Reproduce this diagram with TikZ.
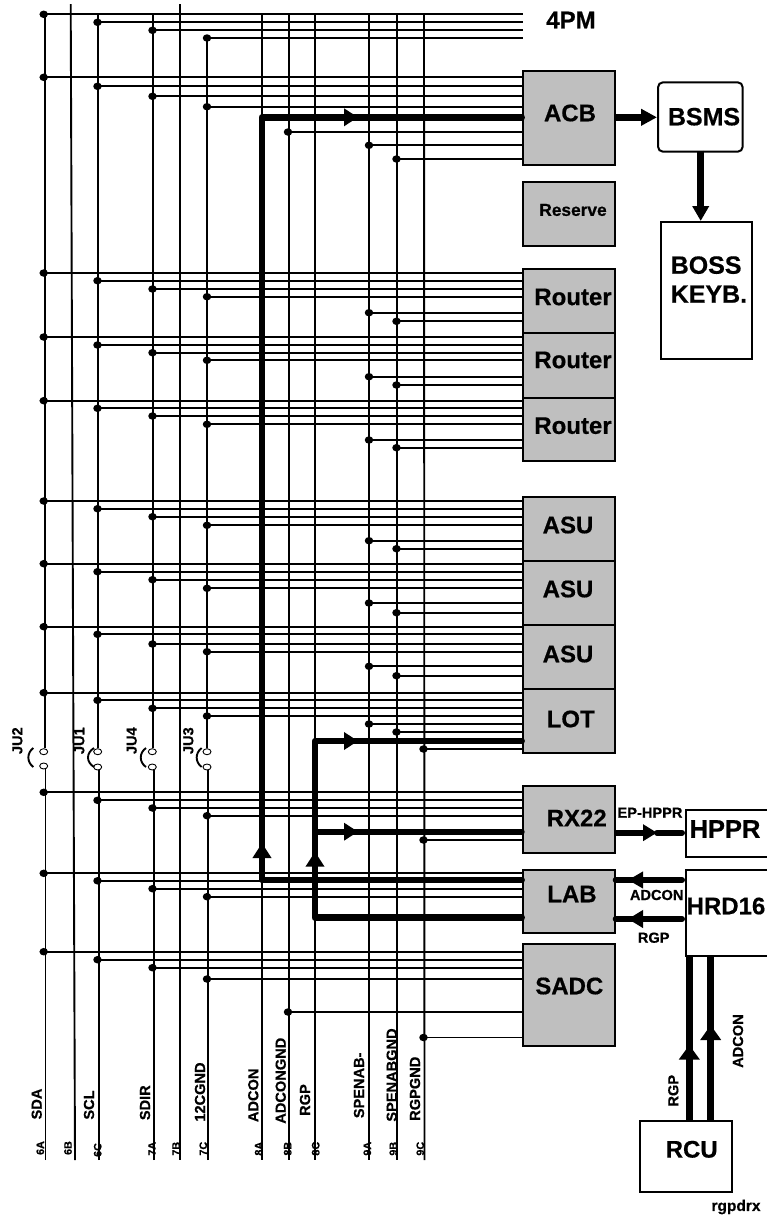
\documentclass[tikz,border=0pt]{standalone}
\usepackage{fontspec}
\setmainfont{Liberation Sans}[BoldFeatures={FakeBold=0.5}]
\usetikzlibrary{arrows.meta,calc,shapes.geometric}
\definecolor{boxgray}{HTML}{BFBFBF}
\tikzset{
  x=1pt,y=-1pt,
  wire/.style={line width=1.9pt,draw=black},
  heavy/.style={line width=6.5pt,draw=black,line cap=round,line join=round},
  uptip/.style={line width=6.5pt,draw=black,line cap=butt,-{Triangle[length=15pt,width=18pt]}},
  sidetip/.style={line width=6pt,draw=black,line cap=butt,-{Triangle[length=14pt,width=17pt]}},
  dot/.style={shape=ellipse,fill=black,inner sep=0,minimum width=8.5pt,minimum height=7.5pt},
  jdot/.style={shape=ellipse,draw=black,fill=white,line width=0.9pt,inner sep=0,minimum width=8pt,minimum height=6pt},
  graybox/.style={draw=black,fill=boxgray,line width=2pt,anchor=north west,inner sep=0},
  whitebox/.style={draw=black,fill=white,line width=2pt,anchor=north west,inner sep=0},
  bigtext/.style={font=\bfseries\fontsize{24}{29}\selectfont,inner sep=0},
  restext/.style={font=\bfseries\fontsize{17.3}{20}\selectfont,inner sep=0},
  sigtext/.style={font=\bfseries\fontsize{14.6}{16}\selectfont,inner sep=0},
  pintext/.style={font=\bfseries\fontsize{10.8}{12}\selectfont,inner sep=0,rotate=90},
  vsig/.style={sigtext,rotate=90},
}
\newcount\tapno
\newcommand{\tapwire}[3]{% rail x, y, target box
  \global\advance\tapno by 1
  \node[dot] (tap\the\tapno) at (#1,#2) {};
  \draw[wire] (tap\the\tapno.center) -- (tap\the\tapno.center -| #3.west);
}
\newcommand{\tapfour}[5]{%
  \tapwire{43.7}{#2}{#1}\tapwire{97.5}{#3}{#1}\tapwire{152.5}{#4}{#1}\tapwire{207}{#5}{#1}}
\newcommand{\taptwo}[3]{%
  \tapwire{369}{#2}{#1}\tapwire{396.5}{#3}{#1}}
\newcommand{\boxat}[6]{% style,name,x0,y0,x1,y1
  \pgfmathsetmacro{\boxw}{#5-#3}\pgfmathsetmacro{\boxh}{#6-#4}
  \node[#1,minimum width=\boxw pt,minimum height=\boxh pt] (#2) at (#3,#4) {};}
\begin{document}
\begin{tikzpicture}
\path[use as bounding box,fill=white] (0,0) rectangle (767,1219);

% boxes
\boxat{graybox}{acb}{521.7}{70.3}{613.7}{163.7}
\boxat{graybox}{reserve}{521.7}{180.7}{613.7}{244.7}
\boxat{graybox}{routerA}{521.7}{268}{613.7}{332}
\boxat{graybox}{routerB}{521.7}{332}{613.7}{396.5}
\boxat{graybox}{routerC}{521.7}{396.5}{613.7}{460}
\boxat{graybox}{asuA}{521.7}{496.3}{613.7}{560.3}
\boxat{graybox}{asuB}{521.7}{560.3}{613.7}{624.3}
\boxat{graybox}{asuC}{521.7}{624.3}{613.7}{688.3}
\boxat{graybox}{lot}{521.7}{688.3}{613.7}{751.7}
\boxat{graybox}{rxbox}{521.7}{785.3}{613.7}{852}
\boxat{graybox}{lab}{521.7}{868.7}{613.7}{932}
\boxat{graybox}{sadc}{521.7}{943.3}{613.7}{1044.7}
\node[draw=black,fill=white,line width=2pt,rounded corners=5pt,anchor=north west,inner sep=0,minimum width=84.7pt,minimum height=69.4pt] (bsms) at (657,81.3) {};
\boxat{whitebox}{boss}{660}{221.3}{750.7}{357.7}
\boxat{whitebox}{hppr}{685.3}{809.3}{772}{855.7}
\boxat{whitebox}{hrd}{685.3}{868.7}{772}{955.3}
\boxat{whitebox}{rcu}{639.3}{1120.3}{731.3}{1191.3}
\coordinate (pmend) at (522.7,0);

% vertical rails
\coordinate (t6A) at (44.7,13);   \coordinate (b6A) at (45.5,1160);
\coordinate (t6B) at (70.7,4);    \coordinate (b6B) at (75,1160);
\coordinate (t6C) at (97.7,14);   \coordinate (b6C) at (99.3,1160);
\coordinate (t7A) at (152.7,14);  \coordinate (b7A) at (154,1160);
\coordinate (t7B) at (180,4);     \coordinate (b7B) at (180,1160);
\coordinate (t7C) at (207.3,37);  \coordinate (b7C) at (208,1160);
\coordinate (t8A) at (262,14);    \coordinate (b8A) at (262,1160);
\coordinate (t8B) at (288.7,14);  \coordinate (b8B) at (288.7,1160);
\coordinate (t8C) at (315,14);    \coordinate (b8C) at (315,1160);
\coordinate (t9A) at (369.3,14);  \coordinate (b9A) at (369.3,1160);
\coordinate (t9B) at (396.7,14);  \coordinate (b9B) at (396.7,1160);
\coordinate (t9C) at (424,14);    \coordinate (b9C) at (424.5,1160);

% jumpers
\node[jdot] (ja1) at (43.7,751.7) {}; \node[jdot] (ja2) at (43.7,766) {};
\node[jdot] (jb1) at (97.7,751.7) {}; \node[jdot] (jb2) at (97.7,767) {};
\node[jdot] (jc1) at (152.3,751.7) {}; \node[jdot] (jc2) at (152.3,767) {};
\node[jdot] (jd1) at (207,751.7) {}; \node[jdot] (jd2) at (207,767) {};
\draw[wire] (t6A) -- (t6A |- ja1.north);
\draw[wire] (b6A) -- (b6A |- ja2.south);
\draw[wire] (t6C) -- (t6C |- jb1.north);
\draw[wire] (b6C) -- (b6C |- jb2.south);
\draw[wire] (t7A) -- (t7A |- jc1.north);
\draw[wire] (b7A) -- (b7A |- jc2.south);
\draw[wire] (t7C) -- (t7C |- jd1.north);
\draw[wire] (b7C) -- (b7C |- jd2.south);
\foreach \r in {6B,7B,8A,8B,8C,9A,9B,9C}{\draw[wire] (t\r) -- (b\r);}
\foreach \xa/\xb in {33.3/26.7,94/86,146/139,201.7/195}{
  \draw[line width=1.9pt] (\xa,748) .. controls (\xb,753) and (\xb,762) .. (\xa,767);
}

% 4PM bus
\foreach \xx/\yy in {43.7/14.3,97.5/22.3,152.5/30.3,207/38}{
  \global\advance\tapno by 1
  \node[dot] (tap\the\tapno) at (\xx,\yy) {};
  \draw[wire] (tap\the\tapno.center) -- (tap\the\tapno.center -| pmend);
}
% tapped groups
\tapfour{acb}{77.3}{86.3}{96.3}{106.7}
\tapwire{288}{132}{acb}\taptwo{acb}{145.3}{159}
\tapfour{routerA}{273}{280.7}{289}{296.7}\taptwo{routerA}{312.7}{321.3}
\tapfour{routerB}{337}{345}{352.7}{360.3}\taptwo{routerB}{376.7}{385}
\tapfour{routerC}{400.7}{408.3}{416}{424.3}\taptwo{routerC}{440}{447.7}
\tapfour{asuA}{501}{508.7}{516.7}{525.3}\taptwo{asuA}{540.7}{548.7}
\tapfour{asuB}{563.7}{571.7}{579.7}{588.3}\taptwo{asuB}{603}{612.7}
\tapfour{asuC}{626.7}{634.3}{644}{651.7}\taptwo{asuC}{666.3}{675.7}
\tapfour{lot}{692.7}{700.3}{708.3}{716}\taptwo{lot}{724}{732}
\tapwire{423.5}{749}{lot}
\tapfour{rxbox}{792.3}{800.3}{808}{815.7}
\tapwire{423.5}{840}{rxbox}
\tapfour{lab}{873.3}{880.8}{888.7}{896.7}
\tapfour{sadc}{951.7}{959.7}{967.7}{979}
\tapwire{288}{1012}{sadc}\tapwire{423.5}{1037.5}{sadc}

% heavy ADCON path
\coordinate (adconLow) at (262,880);
\coordinate (adconHigh) at (262,117.3);
\coordinate (adconTip) at (262,843);
\coordinate (adconTipB) at (358,117.3);
\draw[heavy] (adconLow -| lab.west) -- (adconLow) -- (adconHigh) -- (adconHigh -| acb.west);
\draw[uptip] (adconLow) -- (adconTip);
\draw[sidetip] (adconHigh) -- (adconTipB);

% heavy RGP path
\coordinate (rgpLow) at (315,917.7);
\coordinate (rgpHigh) at (315,741);
\coordinate (rgpMid) at (315,831.7);
\coordinate (rgpTip) at (315,851.7);
\coordinate (rgpTipB) at (358,741);
\coordinate (rgpTipC) at (358,831.7);
\draw[heavy] (rgpLow -| lab.west) -- (rgpLow) -- (rgpHigh) -- (rgpHigh -| lot.west);
\draw[heavy,line width=6pt] (rgpMid) -- (rgpMid -| rxbox.west);
\draw[uptip] (rgpLow) -- (rgpTip);
\draw[sidetip] (rgpHigh) -- (rgpTipB);
\draw[sidetip] (rgpMid) -- (rgpTipC);

% block-to-block arrows
\draw[line width=7pt,-{Triangle[length=16pt,width=16pt]}] (acb.east |- adconHigh) -- (bsms.west |- adconHigh);
\draw[line width=7pt,-{Triangle[length=15pt,width=16pt]}] (700.7,150.7) -- (700.7,221);
\coordinate (hpprIn) at (682,832.7);
\coordinate (hpprTip) at (657,832.7);
\draw[line width=6pt,-{Triangle[length=14pt,width=16pt]}] (rxbox.east |- hpprIn) -- (hpprTip);
\draw[line width=6pt,line cap=round] (hpprTip) -- (hpprIn);
\coordinate (adconIn) at (682,880);
\coordinate (adconHead) at (628,880);
\draw[line width=6pt,line cap=round] (adconIn) -- (adconHead -| lab.east);
\draw[line width=6pt,-{Triangle[length=15pt,width=16pt]}] (adconIn) -- (adconHead);
\coordinate (rgpIn) at (682,919);
\coordinate (rgpHead) at (628,919);
\draw[line width=6pt,line cap=round] (rgpIn) -- (rgpHead -| lab.east);
\draw[line width=6pt,-{Triangle[length=15pt,width=17pt]}] (rgpIn) -- (rgpHead);
\coordinate (rcuA) at (689.3,1120.3);
\coordinate (rcuB) at (710.7,1120.3);
\coordinate (rgpUp) at (689.3,1045);
\coordinate (adconUp) at (710.7,1025);
\draw[line width=7pt] (rcuA) -- (rcuA |- hrd.south);
\draw[line width=7pt] (rcuB) -- (rcuB |- hrd.south);
\draw[line width=7pt,-{Triangle[length=14.5pt,width=20pt]}] (rcuA) -- (rgpUp);
\draw[line width=7pt,-{Triangle[length=15pt,width=20pt]}] (rcuB) -- (adconUp);

% block labels
\node[bigtext] (t4pm) at (571,20) {4PM};
\node[bigtext] (tacb) at (570,113) {ACB};
\node[restext] (tres) at (573,210) {Reserve};
\node[bigtext] (trA) at (573,297) {Router};
\node[bigtext] (trB) at (573,360) {Router};
\node[bigtext] (trC) at (573,425.7) {Router};
\node[bigtext] (taA) at (568,525) {ASU};
\node[bigtext] (taB) at (568,589) {ASU};
\node[bigtext] (taC) at (568,654) {ASU};
\node[bigtext] (tlot) at (570.7,719) {LOT};
\node[bigtext] (trx) at (576.7,818) {RX22};
\node[bigtext] (tlab) at (572,894) {LAB};
\node[bigtext] (tsadc) at (569.3,986) {SADC};
\node[bigtext,font=\bfseries\fontsize{25}{29}\selectfont] (tbsms) at (704,116.7) {BSMS};
\node[bigtext,font=\bfseries\fontsize{25}{29}\selectfont,align=left,anchor=west] (tboss) at (670.5,279.5) {BOSS\\KEYB.};
\node[bigtext,font=\bfseries\fontsize{25.5}{29}\selectfont] (thppr) at (725,829) {HPPR};
\node[bigtext] (thrd) at (726,906) {HRD16};
\node[bigtext] (trcu) at (691.7,1149.3) {RCU};
\node[sigtext] (tep) at (650,812.7) {EP-HPPR};
\node[sigtext] (tad) at (656.7,895) {ADCON};
\node[sigtext] (trg) at (653.7,937.7) {RGP};
\node[vsig] (trg2) at (673.3,1090.7) {RGP};
\node[vsig] (tad2) at (738,1041) {ADCON};
\node[sigtext,font=\bfseries\fontsize{15.5}{17}\selectfont] (trx2) at (736,1207) {rgpdrx};

% rail labels
\node[vsig] (l1) at (36.7,1104) {SDA};
\node[vsig] (l2) at (89,1105) {SCL};
\node[vsig] (l3) at (145,1102.7) {SDIR};
\node[vsig] (l4) at (200,1092) {12CGND};
\node[vsig] (l5) at (253.3,1095.3) {ADCON};
\node[vsig] (l6) at (280.7,1080.7) {ADCONGND};
\node[vsig] (l7) at (305,1100) {RGP};
\node[vsig] (l8) at (359,1085.3) {SPENAB-};
\node[vsig] (l9) at (391.7,1075) {SPENABGND};
\node[vsig] (l10) at (415,1088.7) {RGPGND};
\node[vsig] (ju2) at (17.3,740.7) {JU2};
\node[vsig] (ju1) at (79.3,740.7) {JU1};
\node[vsig] (ju4) at (131.7,740.7) {JU4};
\node[vsig] (ju3) at (188.3,740.7) {JU3};
\node[pintext] (p1) at (40.3,1148) {6A};
\node[pintext] (p2) at (68,1148) {6B};
\node[pintext] (p3) at (97.7,1150) {6C};
\node[pintext] (p4) at (152,1148.7) {7A};
\node[pintext] (p5) at (176,1148.7) {7B};
\node[pintext] (p6) at (203.3,1148.7) {7C};
\node[pintext] (p7) at (258.7,1148.7) {8A};
\node[pintext] (p8) at (287.7,1148.7) {8B};
\node[pintext] (p9) at (315.7,1148.7) {8C};
\node[pintext] (p10) at (367.3,1148.7) {9A};
\node[pintext] (p11) at (393.3,1148.7) {9B};
\node[pintext] (p12) at (420.3,1148.7) {9C};
\end{tikzpicture}
\end{document}
